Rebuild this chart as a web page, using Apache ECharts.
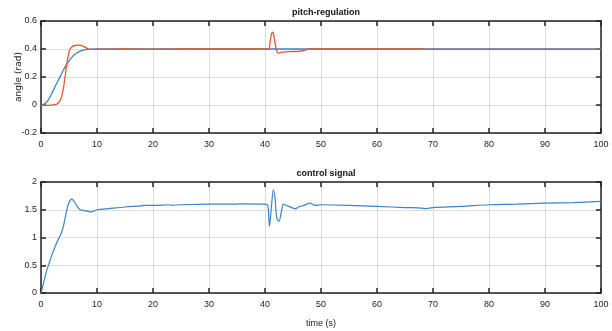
<!DOCTYPE html>
<html><head><meta charset="utf-8">
<script src="https://cdn.jsdelivr.net/npm/echarts@6/dist/echarts.min.js"></script>
<style>html,body{margin:0;padding:0;background:#fff}#c{width:612px;height:331px}</style>
</head><body><div id="c"></div>
<script>
// Top chart: pitch regulation
var pitchRefTime = [0,0.5,1,1.5,2,2.5,3,3.5,4,4.5,5,5.5,6,6.5,7,7.5,8,9,10,20,30,40,47,60,68,80,100];
var pitchRefVal  = [0,0.005,0.02,0.05,0.09,0.13,0.17,0.21,0.25,0.285,0.315,0.34,0.36,0.375,0.385,0.392,0.396,0.399,0.4,0.4,0.4,0.4,0.4,0.4,0.4,0.4,0.4];
var pitchTime = [0,1,2,2.6,3,3.4,3.75,4,4.3,4.6,4.9,5.2,5.6,6,6.5,7,7.5,8,8.5,9,10,15,20,25,30,35,40.6,40.9,41.2,41.4,41.6,41.9,42.2,42.5,43,44,45,46,47,47.5,48,55,60,68,68.5,80,90,100];
var pitchVal  = [0,-0.002,0,0.002,0.01,0.03,0.07,0.12,0.2,0.29,0.36,0.4,0.418,0.425,0.427,0.426,0.42,0.41,0.4,0.397,0.398,0.4,0.399,0.4,0.4,0.4,0.4,0.45,0.512,0.52,0.49,0.42,0.375,0.37,0.378,0.38,0.382,0.383,0.39,0.398,0.4,0.4,0.4,0.4,0.397,0.397,0.397,0.397];
// Bottom chart: control signal
var ctrlTime = [0,0.5,1,1.5,2,2.5,3,3.5,4,4.5,5,5.5,6,6.5,7,7.5,8,8.5,9,9.5,10,12,15,18,18.3,20,23,23.3,25,30,35,35.3,40,40.5,40.8,41.1,41.5,41.8,42.1,42.5,42.9,43.3,44,45,45.5,46,47,48,49,50,55,60,65,68,68.5,70,75,80,85,90,95,100];
var ctrlVal  = [0,0.2,0.4,0.55,0.7,0.83,0.95,1.05,1.2,1.45,1.63,1.69,1.64,1.55,1.5,1.49,1.48,1.47,1.46,1.48,1.5,1.52,1.55,1.57,1.58,1.58,1.59,1.58,1.59,1.6,1.6,1.605,1.6,1.58,1.2,1.5,1.86,1.7,1.35,1.29,1.45,1.6,1.57,1.53,1.52,1.55,1.58,1.62,1.58,1.59,1.58,1.56,1.54,1.53,1.52,1.54,1.56,1.59,1.6,1.62,1.63,1.65];

function pairs(t,v){return t.map(function(x,i){return [x,v[i]];});}
var F = "'Liberation Sans Narrow','Liberation Sans',Arial,sans-serif";
var lblX = {fontSize:9,color:'#222',fontFamily:F,margin:7};
var lblY = {fontSize:9,color:'#222',fontFamily:F,margin:4};
var grid = {lineStyle:{color:'#dcdcdc',width:1}};
var tickIn = {inside:true,length:5,lineStyle:{color:'#222',width:1.5}};
var axLine = {show:true,onZero:false,lineStyle:{color:'#222',width:1.5}};
function xa(g,name){return {type:'value',gridIndex:g,position:'bottom',min:0,max:100,interval:10,
  axisLine:axLine,axisTick:tickIn,splitLine:Object.assign({show:true},grid),
  axisLabel:lblX,name:name||'',nameLocation:'middle',nameGap:26,nameMoveOverlap:false,
  nameTextStyle:{fontSize:9,color:'#222',fontFamily:F}};}
function xtop(g){return {type:'value',gridIndex:g,position:'top',min:0,max:100,interval:10,
  axisLine:axLine,axisTick:tickIn,splitLine:{show:false},axisLabel:{show:false}};}
function ya(g,min,max,iv,name){return {type:'value',gridIndex:g,position:'left',min:min,max:max,interval:iv,
  axisLine:axLine,axisTick:tickIn,splitLine:Object.assign({show:true},grid),
  axisLabel:lblY,name:name||'',nameLocation:'middle',nameGap:18,nameMoveOverlap:false,
  nameTextStyle:{fontSize:9,color:'#222',fontFamily:"'DejaVu Sans',sans-serif"}};}
function yr(g,min,max,iv){return {type:'value',gridIndex:g,position:'right',min:min,max:max,interval:iv,
  axisLine:axLine,axisTick:tickIn,splitLine:{show:false},axisLabel:{show:false}};}

var chart = echarts.init(document.getElementById('c'),null,{renderer:'canvas'});
chart.setOption({
  animation:false,
  backgroundColor:'#fff',
  title:[
    {text:'pitch-regulation',left:321,top:3,textAlign:'center',textStyle:{fontSize:9,fontWeight:'bold',color:'#111',fontFamily:F}},
    {text:'control signal',left:321,top:164,textAlign:'center',textStyle:{fontSize:9,fontWeight:'bold',color:'#111',fontFamily:F}}
  ],
  grid:[
    {left:41,right:11,top:21,height:112,containLabel:false,outerBoundsMode:'none'},
    {left:41,right:11,top:182,height:111,containLabel:false,outerBoundsMode:'none'}
  ],
  xAxis:[xa(0),xa(1,'time (s)'),xtop(0),xtop(1)],
  yAxis:[ya(0,-0.2,0.6,0.2,'angle (rad)'),ya(1,0,2,0.5),yr(0,-0.2,0.6,0.2),yr(1,0,2,0.5)],
  series:[
    {type:'line',xAxisIndex:0,yAxisIndex:0,data:pairs(pitchRefTime,pitchRefVal),showSymbol:false,smooth:0.3,lineStyle:{color:'#3a84c9',width:1.3}},
    {type:'line',xAxisIndex:0,yAxisIndex:0,data:pairs(pitchTime,pitchVal),showSymbol:false,smooth:0.3,lineStyle:{color:'#e4572e',width:1.3}},
    {type:'line',xAxisIndex:1,yAxisIndex:1,data:pairs(ctrlTime,ctrlVal),showSymbol:false,smooth:0.3,lineStyle:{color:'#3a84c9',width:1.2}}
  ]
});
</script></body></html>
